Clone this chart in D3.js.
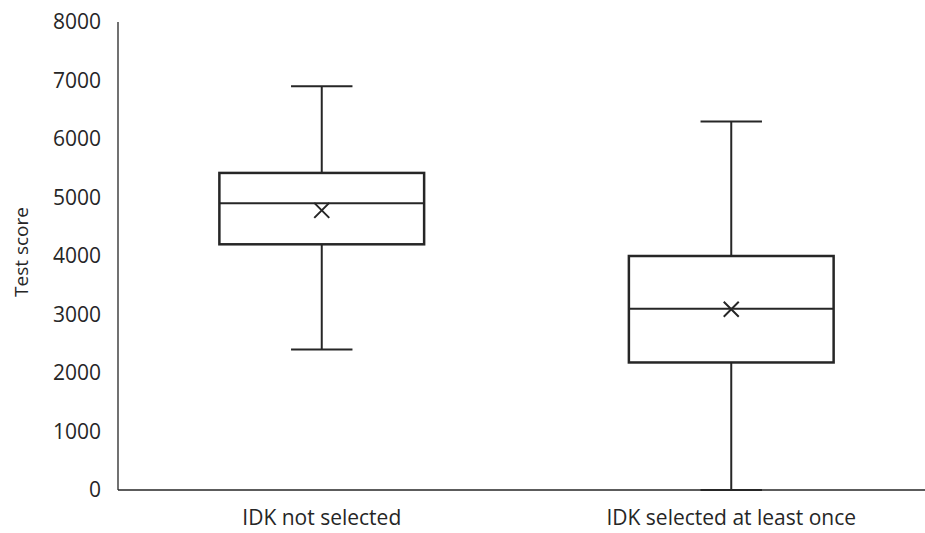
<!DOCTYPE html>
<html>
<head>
<meta charset="utf-8">
<script src="https://cdn.jsdelivr.net/npm/d3@7"></script>
<style>
  html, body { margin: 0; padding: 0; background: #fff; }
  svg { display: block; font-family: "Open Sans", sans-serif; }
</style>
</head>
<body>
<svg id="chart" width="925" height="533"></svg>
<script>
// Data
const categories = ["IDK not selected", "IDK selected at least once"];
const whiskerLow  = [2400, 0];
const q1          = [4200, 2180];
const median      = [4900, 3100];
const q3          = [5420, 4000];
const whiskerHigh = [6900, 6300];
const mean        = [4780, 3090];
const yTicks = [0, 1000, 2000, 3000, 4000, 5000, 6000, 7000, 8000];

const W = 925, H = 533;
const svg = d3.select("#chart");
const m = { left: 118, right: 0, top: 22, bottom: 43 };

const y = d3.scaleLinear().domain([0, 8000]).range([H - m.bottom, m.top]);
const x = d3.scaleBand().domain(categories).range([117, 936]).paddingInner(0).paddingOuter(0);

const stroke = "#262626";

// Y axis
const yAxis = d3.axisLeft(y).tickValues(yTicks).tickSize(0).tickPadding(17).tickFormat(d3.format("d"));
const gy = svg.append("g").attr("transform", `translate(${m.left},0)`).call(yAxis);
gy.select(".domain").remove();
gy.selectAll("text").attr("font-size", 21).attr("fill", "#262626").attr("font-family", "Open Sans, sans-serif");

// Axis lines
svg.append("line").attr("x1", m.left).attr("x2", m.left).attr("y1", y(8000)).attr("y2", y(0))
  .attr("stroke", stroke).attr("stroke-width", 1.3);
svg.append("line").attr("x1", m.left).attr("x2", W).attr("y1", y(0)).attr("y2", y(0))
  .attr("stroke", stroke).attr("stroke-width", 1.3);

// X labels
const xAxis = d3.axisBottom(x).tickSize(0).tickPadding(20);
const gx = svg.append("g").attr("transform", `translate(0,${y(0)})`).call(xAxis);
gx.select(".domain").remove();
gx.selectAll("text").attr("font-size", 21).attr("fill", "#262626").attr("font-family", "Open Sans, sans-serif");

// Y title
svg.append("text")
  .attr("transform", `translate(28,${(y(8000)+y(0))/2 - 4}) rotate(-90)`)
  .attr("text-anchor", "middle")
  .attr("font-size", 19)
  .attr("fill", "#262626")
  .text("Test score");

// Boxes
const bw = x.bandwidth();
const boxW = bw * 0.5;
const capW = bw * 0.15;

const g = svg.append("g");
categories.forEach((c, i) => {
  const cx = x(c) + bw / 2;
  const s = g.append("g").attr("stroke", stroke).attr("stroke-width", 2).attr("fill", "none");
  // whiskers
  s.append("line").attr("x1", cx).attr("x2", cx).attr("y1", y(q3[i])).attr("y2", y(whiskerHigh[i]));
  s.append("line").attr("x1", cx).attr("x2", cx).attr("y1", y(q1[i])).attr("y2", y(whiskerLow[i]));
  s.append("line").attr("x1", cx - capW/2).attr("x2", cx + capW/2).attr("y1", y(whiskerHigh[i])).attr("y2", y(whiskerHigh[i]));
  s.append("line").attr("x1", cx - capW/2).attr("x2", cx + capW/2).attr("y1", y(whiskerLow[i])).attr("y2", y(whiskerLow[i]));
  // box
  s.append("rect").attr("x", cx - boxW/2).attr("width", boxW)
    .attr("y", y(q3[i])).attr("height", y(q1[i]) - y(q3[i])).attr("fill", "#fff").attr("stroke-width", 2.5);
  // median
  s.append("line").attr("x1", cx - boxW/2).attr("x2", cx + boxW/2).attr("y1", y(median[i])).attr("y2", y(median[i]));
  // mean X
  const my = y(mean[i]), r = 7.5;
  s.append("path").attr("d", `M${cx-r},${my-r}L${cx+r},${my+r}M${cx-r},${my+r}L${cx+r},${my-r}`).attr("stroke-width", 2);
});
</script>
</body>
</html>
